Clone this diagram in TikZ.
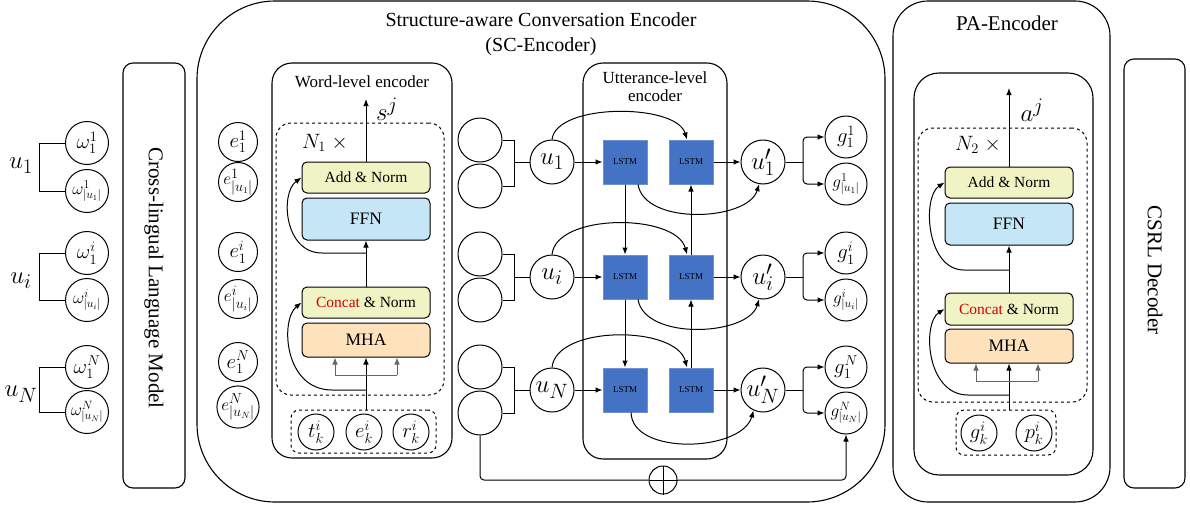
\documentclass[tikz,border=0pt]{standalone}
\usepackage{fontspec}
\setmainfont{Liberation Serif}
\usetikzlibrary{arrows.meta,calc}
\definecolor{anY}{RGB}{240,243,196}
\definecolor{ffB}{RGB}{197,230,246}
\definecolor{mhO}{RGB}{253,226,188}
\definecolor{lsB}{RGB}{68,114,196}
\definecolor{lsE}{RGB}{110,145,210}
\definecolor{ccR}{RGB}{210,0,0}
\newcommand\fz[1]{\fontsize{#1}{#1}\selectfont}
\begin{document}
\begin{tikzpicture}[x=1pt,y=-1pt,line width=1pt,
 circ/.style={draw,circle,inner sep=0pt,minimum size=#1},
 blk/.style={draw,rounded corners=5pt,inner sep=0pt,minimum width=128pt,minimum height=#1},
 lstm/.style={draw=lsE,fill=lsB,inner sep=0pt,minimum size=44pt,font=\fz{9}},
 arr/.style={-{Latex[length=7pt,width=5.5pt]}},
 frame/.style={draw,rounded corners=#1,line width=1.1pt,inner sep=0pt},
 dbox/.style={draw,dashed,rounded corners=#1,line width=1pt,inner sep=0pt},
 gline/.style={draw=gray!80!black,line width=0.8pt}
]
\useasboundingbox (0,0) rectangle (1190,506);

% ---------- big frames ----------
\node[frame=10pt,minimum width=62pt,minimum height=425pt] (clm) at (154,275.5) {};
\node[rotate=-90,font=\fz{21}] (clmt) at (154,278) {Cross-lingual Language Model};
\node[frame=78pt,minimum width=688pt,minimum height=501pt] (sc) at (541,251.5) {};
\node[font=\fz{20},align=center] (sct) at (541,34) {Structure-aware Conversation Encoder\\[5pt](SC-Encoder)};
\node[frame=35pt,minimum width=217pt,minimum height=501pt] (pa) at (1001.5,251.5) {};
\node[font=\fz{21}] (pat) at (1007,23) {PA-Encoder};
\node[frame=10pt,minimum width=61pt,minimum height=429pt] (csrl) at (1154.5,273.5) {};
\node[rotate=-90,font=\fz{21}] (csrlt) at (1155,270) {CSRL Decoder};

% ---------- left words ----------
\foreach \n/\y/\t/\s in {w11/143/{\omega_1^1}/21,w1u/191/{\omega^1_{|u_1|}}/17,wi1/253/{\omega_1^i}/21,wiu/300/{\omega^i_{|u_i|}}/17,wN1/367/{\omega_1^N}/21,wNu/412/{\omega^N_{|u_N|}}/17}
  \node[circ=43pt,font=\fz{\s}] (\n) at (87,\y) {$\t$};
\draw (w11.west) -- ++(-26,0) |- (w1u.west);
\draw (wi1.west) -- ++(-26,0) |- (wiu.west);
\draw (wN1.west) -- ++(-26,0) |- (wNu.west);
\node[font=\fz{29}] (lu1) at (21,166) {$u_1$};
\node[font=\fz{29}] (lui) at (21,281) {$u_i$};
\node[font=\fz{29}] (luN) at (21,394) {$u_N$};

% ---------- e circles ----------
\foreach \n/\y/\t/\s in {e11/142/{e_1^1}/22,e1u/182/{e^1_{|u_1|}}/19,ei1/252/{e_1^i}/22,eiu/299/{e^i_{|u_i|}}/19,eN1/362/{e_1^N}/22,eNu/407/{e^N_{|u_N|}}/19}
  \node[circ=39pt,font=\fz{\s}] (\n) at (238,\y) {$\t$};

% ---------- word-level encoder ----------
\node[frame=20pt,minimum width=180pt,minimum height=395pt] (wle) at (362,260.5) {};
\node[font=\fz{17}] (wlet) at (362,82) {Word-level encoder};
\node[dbox=15pt,minimum width=168pt,minimum height=272pt] (d1) at (360,259) {};
\node[font=\fz{21}] (n1) at (325,143) {$N_1\;\times$};
\node[blk=31pt,fill=anY,font=\fz{15.5}] (an1) at (366,177.5) {Add \& Norm};
\node[blk=42pt,fill=ffB,font=\fz{17.5}] (ff1) at (366,219) {FFN};
\node[blk=31pt,fill=anY,font=\fz{15.5}] (cn1) at (366,302.5) {\textcolor{ccR}{Concat} \& Norm};
\node[blk=34pt,fill=mhO,font=\fz{17.5}] (mh1) at (366,340) {MHA};
\coordinate (sj) at (366,99);
\draw[arr] (an1.north) -- (sj);
\node[font=\fz{29}] (sjl) at (387,109) {$s^j$};
\draw[arr] (cn1.north) -- (ff1.south);
\coordinate (br1) at (366,253);
\draw[arr] (br1) -- (322,253) .. controls (284,253) and (280,193) .. (an1.west);
\node[dbox=8pt,minimum width=145pt,minimum height=43pt] (in1) at (363.5,431.5) {};
\foreach \n/\x/\t in {tk/316/{t_k^i},ek/364/{e_k^i},rk/411/{r_k^i}}
  \node[circ=36pt,font=\fz{22}] (\n) at (\x,432) {$\t$};
\draw[arr] (in1.north -| mh1.south) -- (mh1.south);
\coordinate (br2) at (366,390);
\draw[arr] (br2) -- (332,390) .. controls (284,390) and (280,320) .. (cn1.west);
\coordinate (gl1) at (335,375);
\coordinate (gr1) at (397,375);
\draw[gline] (gl1) -- (gr1);
\draw[gline,arr] (gl1) -- (gl1 |- mh1.south);
\draw[gline,arr] (gr1) -- (gr1 |- mh1.south);

% ---------- utterance-level ----------
\foreach \n/\y in {c1/140,c2/186,c3/254,c4/300,c5/367,c6/413}
  \node[circ=44pt] (\n) at (480,\y) {};
\node[circ=44pt,font=\fz{28}] (u1) at (552,162) {$u_1$};
\node[circ=44pt,font=\fz{28}] (ui) at (552,277) {$u_i$};
\node[circ=44pt,font=\fz{28}] (uN) at (552,390) {$u_N$};
\draw (c1.east) -- ++(12,0) |- (c2.east);
\draw (c3.east) -- ++(12,0) |- (c4.east);
\draw (c5.east) -- ++(12,0) |- (c6.east);
\draw (u1.west) -- ++(-16,0);
\draw (ui.west) -- ++(-16,0);
\draw (uN.west) -- ++(-16,0);

\node[frame=20pt,minimum width=144pt,minimum height=396pt] (ule) at (655,261) {};
\node[font=\fz{17},align=center] (ulet) at (655,87) {Utterance-level\\[1pt]encoder};
\node[lstm] (L1) at (625,162) {LSTM};
\node[lstm] (R1) at (691,162) {LSTM};
\node[lstm] (L2) at (625,277) {LSTM};
\node[lstm] (R2) at (691,277) {LSTM};
\node[lstm] (L3) at (625,390) {LSTM};
\node[lstm] (R3) at (691,390) {LSTM};
\draw[arr] (u1.east) -- (L1.west);
\draw[arr] (ui.east) -- (L2.west);
\draw[arr] (uN.east) -- (L3.west);
\draw[arr] (L1.south) -- (L2.north);
\draw[arr] (L2.south) -- (L3.north);
\draw[arr] (R3.north) -- (R2.south);
\draw[arr] (R2.north) -- (R1.south);
\draw[arr] (u1.north) .. controls (556,103) and (676,103) .. (R1.100);
\draw[arr] (ui.north) .. controls (556,213) and (676,213) .. (R2.100);
\draw[arr] (uN.north) .. controls (556,325) and (676,325) .. (R3.100);

\node[circ=44pt,font=\fz{28}] (u1p) at (763,162) {$u_1'$};
\node[circ=44pt,font=\fz{28}] (uip) at (763,277) {$u_i'$};
\node[circ=44pt,font=\fz{28}] (uNp) at (763,390) {$u_N'$};
\draw[arr] (R1.east) -- (u1p.west);
\draw[arr] (R2.east) -- (uip.west);
\draw[arr] (R3.east) -- (uNp.west);
\draw[arr] (L1.-60) .. controls (645,226) and (748,221) .. (u1p.-100);
\draw[arr] (L2.-60) .. controls (645,341) and (748,336) .. (uip.-100);
\draw[arr] (L3.-75) .. controls (632,456) and (742,452) .. (uNp.-115);

% ---------- g outputs ----------
\foreach \n/\y/\t/\s in {g11/137/{g_1^1}/22,g1u/184/{g^1_{|u_1|}}/18,gi1/253/{g_1^i}/22,giu/300/{g^i_{|u_i|}}/18,gN1/367/{g_1^N}/22,gNu/413/{g^N_{|u_N|}}/18}
  \node[circ=42pt,font=\fz{\s}] (\n) at (846,\y) {$\t$};
\coordinate (b1) at (803,162);
\coordinate (b2) at (803,277);
\coordinate (b3) at (803,390);
\draw (u1p.east) -- (b1);
\draw (uip.east) -- (b2);
\draw (uNp.east) -- (b3);
\draw[arr,rounded corners=4pt] (b1) |- (g11.west);
\draw[arr,rounded corners=4pt] (b1) |- (g1u.west);
\draw[arr,rounded corners=4pt] (b2) |- (gi1.west);
\draw[arr,rounded corners=4pt] (b2) |- (giu.west);
\draw[arr,rounded corners=4pt] (b3) |- (gN1.west);
\draw[arr,rounded corners=4pt] (b3) |- (gNu.west);

\node[circ=28pt] (op) at (663,480) {};
\draw (op.north) -- (op.south);
\draw (op.west) -- (op.east);
\draw[rounded corners=4pt] (c6.south) |- (op.west);
\draw[arr,rounded corners=4pt] (op.east) -| (gNu.south);

% ---------- PA encoder ----------
\node[frame=25pt,minimum width=179pt,minimum height=402pt] (pai) at (1003.5,274) {};
\node[dbox=15pt,minimum width=169pt,minimum height=274pt] (d2) at (1002.5,265) {};
\node[font=\fz{21}] (n2) at (978,145) {$N_2\;\times$};
\node[blk=31pt,fill=anY,font=\fz{15.5}] (an2) at (1009,182.5) {Add \& Norm};
\node[blk=42pt,fill=ffB,font=\fz{17.5}] (ff2) at (1009,224) {FFN};
\node[blk=32pt,fill=anY,font=\fz{15.5}] (cn2) at (1009,309) {\textcolor{ccR}{Concat} \& Norm};
\node[blk=34pt,fill=mhO,font=\fz{17.5}] (mh2) at (1009,346) {MHA};
\coordinate (aj) at (1009,88);
\draw[arr] (an2.north) -- (aj);
\node[font=\fz{29}] (ajl) at (1032,110) {$a^j$};
\draw[arr] (cn2.north) -- (ff2.south);
\coordinate (br3) at (1009,270);
\draw[arr] (br3) -- (964,270) .. controls (926,270) and (922,197) .. (an2.west);
\coordinate (br4) at (1009,395);
\draw[arr] (br4) -- (968,395) .. controls (926,395) and (922,323) .. (cn2.west);
\node[dbox=8pt,minimum width=100pt,minimum height=45pt] (in2) at (1006,432.5) {};
\node[circ=36pt,font=\fz{22}] (gk) at (979,433) {$g_k^i$};
\node[circ=36pt,font=\fz{22}] (pk) at (1034,433) {$p_k^i$};
\draw[arr] (in2.north -| mh2.south) -- (mh2.south);
\coordinate (gl2) at (976,381);
\coordinate (gr2) at (1038,381);
\draw[gline] (gl2) -- (gr2);
\draw[gline,arr] (gl2) -- (gl2 |- mh2.south);
\draw[gline,arr] (gr2) -- (gr2 |- mh2.south);
\end{tikzpicture}
\end{document}
